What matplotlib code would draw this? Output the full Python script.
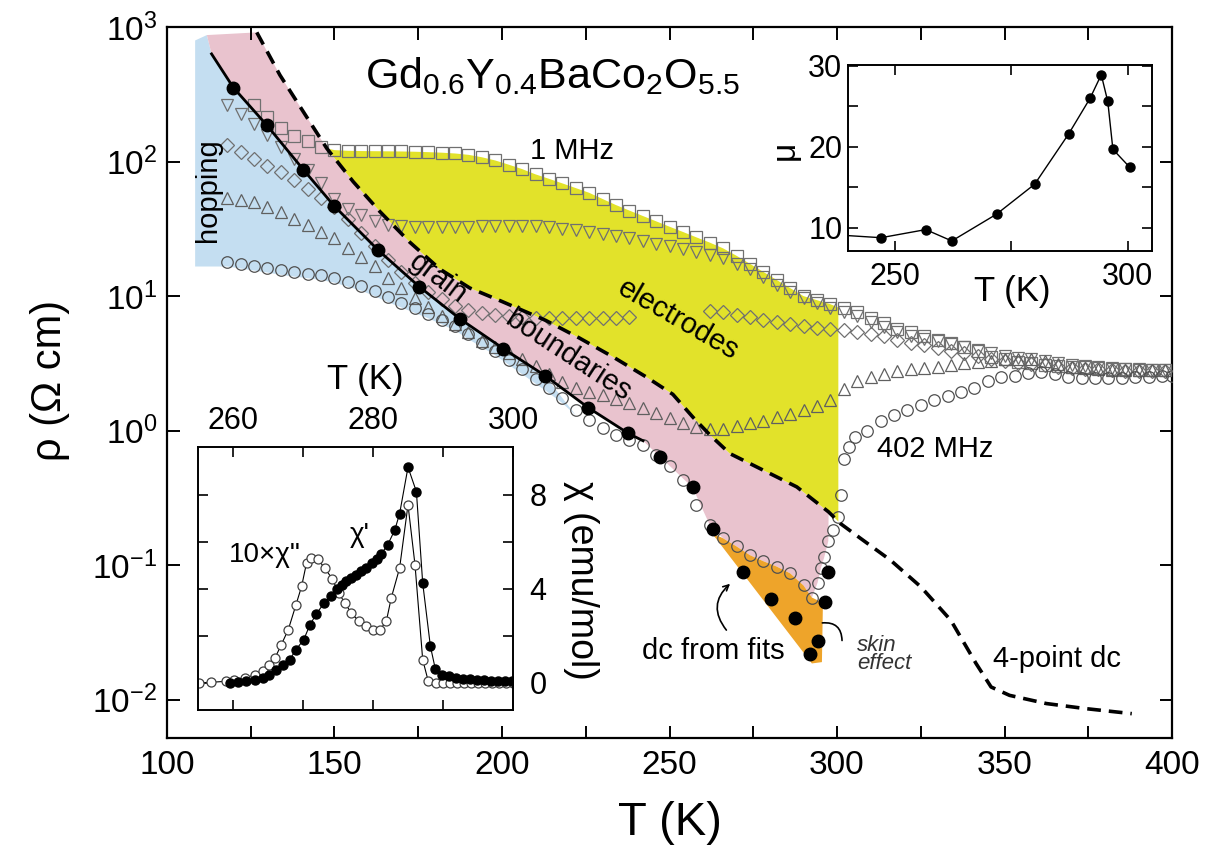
import numpy as np
import matplotlib
matplotlib.use('Agg')
import matplotlib.pyplot as plt
from matplotlib.ticker import MultipleLocator, NullLocator, FixedLocator

plt.rcParams['font.family'] = ['Liberation Sans', 'DejaVu Sans']
plt.rcParams['mathtext.fontset'] = 'custom'
plt.rcParams['mathtext.rm'] = 'Liberation Sans'
plt.rcParams['mathtext.it'] = 'Liberation Sans:italic'
plt.rcParams['mathtext.bf'] = 'Liberation Sans:bold'

# ---------------- data (log10 of rho in Ohm cm) ----------------
T_ac = [118, 122, 126, 130, 134, 138, 142, 146, 150, 154, 158, 162, 166, 170, 174, 178,
        182, 186, 190, 194, 198, 202, 206, 210, 214, 218, 222, 226, 230, 234, 238, 242,
        246, 250, 254, 258, 262, 266, 270, 274, 278, 282, 286, 290, 294, 298, 302, 306,
        310, 314, 318, 322, 326, 330, 334, 338, 342, 346, 350, 354, 358, 362, 366, 370,
        374, 378, 382, 386, 390, 394, 398]
nan = np.nan
# 1 MHz (squares)
lg_square = [nan, nan, 2.42, 2.33, 2.25, 2.19, 2.15, 2.11, 2.085, 2.08, 2.078, 2.077, 2.076, 2.075, 2.073, 2.07,
             2.066, 2.06, 2.05, 2.032, 2.008, 1.977, 1.944, 1.905, 1.872, 1.838, 1.803, 1.768, 1.722, 1.677, 1.636, 1.596,
             1.556, 1.516, 1.477, 1.437, 1.398, 1.355, 1.30, 1.24, 1.18, 1.12, 1.06, 1.00, 0.97, 0.94, 0.91, 0.88,
             0.84, 0.80, 0.755, 0.73, 0.70, 0.675, 0.65, 0.62, 0.59, 0.55, 0.53, 0.51, 0.50, 0.49, 0.48, 0.475,
             0.47, 0.465, 0.46, 0.455, 0.45, 0.45, 0.45]
# down triangles
lg_tri_down = [2.42, 2.35, 2.28, 2.20, 2.11, 2.02, 1.94, 1.84, 1.72, 1.65, 1.60, 1.555, 1.53, 1.52, 1.515, 1.515,
               1.515, 1.515, 1.517, 1.52, 1.52, 1.52, 1.52, 1.518, 1.512, 1.50, 1.49, 1.475, 1.46, 1.445, 1.43, 1.41,
               1.39, 1.37, 1.35, 1.33, 1.305, 1.28, 1.24, 1.20, 1.14, 1.08, 1.03, 0.985, 0.95, 0.91, 0.88, 0.85,
               0.81, 0.77, 0.73, 0.705, 0.685, 0.665, 0.645, 0.625, 0.60, 0.575, 0.555, 0.54, 0.53, 0.52, 0.505, 0.49,
               0.48, 0.47, 0.465, 0.46, 0.455, 0.45, 0.45]
# diamonds
lg_diamond = [2.12, 2.07, 2.02, 1.97, 1.92, 1.86, 1.795, 1.73, 1.66, 1.57, 1.47, 1.375, 1.27, 1.18, 1.10, 1.03,
              0.975, 0.93, 0.895, 0.875, 0.86, 0.85, 0.845, 0.84, 0.835, 0.835, 0.835, 0.835, 0.838, 0.84, 0.842, nan,
              nan, nan, nan, nan, 0.89, 0.88, 0.86, 0.846, 0.825, 0.805, 0.79, 0.775, 0.76, 0.752, 0.745, 0.73,
              0.715, 0.70, 0.675, 0.655, 0.635, 0.615, 0.595, 0.575, 0.555, 0.53, 0.515, 0.505, 0.495, 0.485, 0.475, 0.465,
              0.46, 0.455, 0.45, 0.445, 0.44, 0.44, 0.44]
# up triangles
lg_tri_up = [1.73, 1.715, 1.70, 1.665, 1.625, 1.575, 1.525, 1.48, 1.43, 1.355, 1.29, 1.225, 1.135, 1.06, 0.985, 0.92,
             0.855, 0.79, 0.73, 0.67, 0.62, 0.575, 0.53, 0.48, 0.42, 0.36, 0.315, 0.29, 0.265, 0.235, 0.205, 0.17,
             0.13, 0.095, 0.055, 0.03, 0.01, 0.015, 0.035, 0.055, 0.075, 0.10, 0.125, 0.15, 0.185, 0.225, 0.31, 0.37,
             0.40, 0.42, 0.44, 0.455, 0.465, 0.475, 0.49, 0.50, 0.51, 0.52, 0.53, 0.535, 0.535, 0.52, 0.495, 0.475,
             0.465, 0.455, 0.45, 0.45, 0.45, 0.45, 0.45]
# 402 MHz (circles)
T_circ = [118, 122, 126, 130, 134, 138, 142, 146, 150, 154, 158, 162, 166, 170, 174, 178, 182, 186, 190,
          194, 198, 202, 206, 210, 214, 218, 222, 226, 230, 234, 238, 242, 246, 250, 254, 258, 262, 266,
          270, 274, 278, 282, 286, 290, 292.5, 294.2, 295.2, 296.2, 297.4, 298.7, 300.2, 301.2, 302.0,
          303.5, 305.5, 309, 313, 317, 321, 325, 329, 333, 337, 341, 345, 349, 353, 357, 361, 365, 369,
          373, 377, 381, 385, 389, 393, 397, 400]
lg_circ = [1.255, 1.24, 1.225, 1.21, 1.193, 1.18, 1.168, 1.155, 1.135, 1.105, 1.075, 1.035, 0.99, 0.95, 0.91,
           0.87, 0.825, 0.78, 0.715, 0.655, 0.595, 0.525, 0.455, 0.385, 0.315, 0.24, 0.15, 0.08, 0.02, -0.03,
           -0.07, -0.105, -0.18, -0.26, -0.37, -0.55, -0.70, -0.80, -0.86, -0.925, -0.97, -1.01, -1.06, -1.15,
           -1.24, -1.13, -1.02, -0.94, -0.82, -0.74, -0.64, -0.48, -0.21, -0.12, -0.05, 0.00, 0.07, 0.12, 0.155,
           0.19, 0.225, 0.26, 0.29, 0.32, 0.37, 0.40, 0.41, 0.425, 0.435, 0.42, 0.40, 0.39, 0.39, 0.39, 0.395,
           0.40, 0.40, 0.405, 0.41]
# dc from fits (filled dots)
T_dc = [119.8, 129.8, 140.7, 149.9, 163.1, 175.3, 187.5, 200.4, 212.8, 225.8, 237.7, 247.2, 256.9,
        262.9, 271.8, 280.2, 287.5, 292.0, 294.4, 296.4, 297.4]
lg_dc = [2.55, 2.27, 1.94, 1.67, 1.34, 1.07, 0.83, 0.61, 0.41, 0.17, -0.02, -0.195, -0.42,
         -0.73, -1.05, -1.25, -1.39, -1.66, -1.56, -1.27, -1.05]
# hopping fit (solid line)
T_fit = [113.3, 119.8, 129.8, 140.7, 149.9, 163.1, 175.3, 187.5, 200.4, 212.8, 225.8, 237.7, 242.1]
lg_fit = [2.80, 2.55, 2.27, 1.94, 1.67, 1.34, 1.07, 0.83, 0.61, 0.41, 0.17, -0.02, -0.075]
# grain boundary limit + 4-point dc (dashed)
T_dash = [126.8, 133.7, 140.7, 147.7, 155.6, 163.6, 172.5, 181.5, 190.4, 200, 213, 223, 233, 243, 251,
          257, 262, 268, 278, 288, 297.5, 301, 307, 316, 325, 334, 341.5, 346, 351.5, 362.5, 374, 388]
lg_dash = [2.96, 2.643, 2.37, 2.098, 1.85, 1.627, 1.40, 1.20, 1.06, 0.96, 0.82, 0.69, 0.55, 0.40, 0.27,
           0.10, -0.03, -0.17, -0.294, -0.418, -0.604, -0.69, -0.80, -0.963, -1.16, -1.41, -1.73, -1.905,
           -1.967, -2.028, -2.065, -2.103]
# skin effect region outline
T_skin = [262.6, 266, 270, 274, 278, 282, 286, 290, 292.5, 295.8, 295.5, 292.5]
lg_skin = [-0.76, -0.80, -0.86, -0.925, -0.97, -1.01, -1.06, -1.15, -1.24, -1.28, -1.72, -1.73]

# insets
T_mu = [236, 247.0, 256.6, 262.2, 271.8, 280.0, 287.3, 291.9, 294.3, 295.7, 296.8, 300.4]
mu = [9.2, 8.8, 9.8, 8.4, 11.7, 15.4, 21.6, 26.0, 28.9, 25.6, 19.7, 17.5]

T_chi1 = [259.5, 260.7, 261.9, 263.1, 264.3, 265.2, 266.2, 267.1, 268.1, 269.0, 270.1, 271.0, 271.9,
          273.0, 274.0, 274.8, 275.5, 276.2, 276.9, 277.6, 278.3, 279.0, 279.8, 280.5, 281.2, 282.1,
          283.1, 283.8, 285.0, 286.2, 287.1, 288.2, 288.9, 289.8, 290.8, 291.8, 292.8, 293.8, 294.8,
          295.8, 296.8, 297.8, 298.8, 299.8]
chi1 = [0.0, 0.03, 0.07, 0.14, 0.21, 0.35, 0.57, 0.78, 0.99, 1.42, 1.84, 2.48, 2.93, 3.4, 3.71, 4.0,
        4.18, 4.32, 4.46, 4.6, 4.77, 4.91, 5.1, 5.27, 5.5, 5.88, 6.5, 7.2, 9.18, 8.14, 4.25, 1.56, 0.6,
        0.35, 0.28, 0.22, 0.18, 0.15, 0.13, 0.11, 0.1, 0.09, 0.08, 0.08]
T_chi2 = [255.2, 256.9, 259.0, 260.2, 261.7, 263.1, 264.3, 265.2, 266.0, 266.9, 267.9, 269.0, 269.8,
          270.5, 271.2, 272.1, 273.1, 274.2, 275.1, 276.0, 276.9, 278.0, 279.0, 280.0, 281.0, 281.9,
          282.6, 283.8, 285.0, 286.0, 287.1, 287.9, 289.0, 290.0, 291.0, 292.0, 293.0, 294.0, 295.0,
          296.0, 297.0, 298.0, 299.0, 300.0]
chi2 = [0.0, 0.03, 0.07, 0.14, 0.21, 0.35, 0.5, 0.78, 1.06, 1.63, 2.27, 3.33, 4.11, 5.1, 5.31, 5.27,
        4.89, 4.42, 3.82, 3.4, 2.97, 2.62, 2.41, 2.27, 2.27, 2.62, 3.61, 4.89, 7.58, 5.03, 0.99, 0.07,
        0.0, 0.0, 0.0, 0.0, 0.0, 0.0, 0.0, 0.0, 0.0, 0.0, 0.0, 0.0]

# ---------------- figure ----------------
W, H = 1221, 859
fig = plt.figure(figsize=(W / 100, H / 100), dpi=100)


def box(x0, y0, x1, y1):
    return [x0 / W, 1 - y1 / H, (x1 - x0) / W, (y1 - y0) / H]


def r(v):
    return 10 ** np.asarray(v, dtype=float)


ax = fig.add_axes(box(167, 27, 1172, 738))
ax.set_yscale('log')
ax.set_xlim(100, 400)
ax.set_ylim(5.2e-3, 1e3)

c_blue, c_pink, c_yel, c_org = '#c4def1', '#e9c3ce', '#e2e22a', '#eea42a'
T_ac_a = np.array(T_ac, float)
T_c = np.array(T_circ, float)
lc = np.array(lg_circ)

# hopping region
m = T_c <= 222
bx = [108.4, 111.9] + T_fit[:10] + list(T_c[m][::-1]) + [108.4]
by = [2.90, 2.94] + lg_fit[:10] + list(lc[m][::-1] - 0.035) + [1.22]
ax.fill(bx, r(by), color=c_blue, lw=0, zorder=1)

# grain boundary region
md = np.array(T_dash) <= 297.5
mc = (T_c >= 262) & (T_c <= 297.4)
px_ = [111.9] + list(np.array(T_dash)[md]) + list(T_c[mc][::-1]) + [256.9, 247.2] + T_fit[::-1]
py_ = [2.94] + list(np.array(lg_dash)[md]) + list(lc[mc][::-1]) + [-0.422, -0.195] + lg_fit[::-1]
ax.fill(px_, r(py_), color=c_pink, lw=0, zorder=1)

# electrodes region
ms_ = (T_ac_a >= 150) & (T_ac_a <= 298)
sq = np.array(lg_square)
d_end = np.interp(300.4, T_dash, lg_dash)
md2 = (np.array(T_dash) >= 147.7) & (np.array(T_dash) <= 297.5)
yx = list(T_ac_a[ms_]) + [300.4, 300.4] + list(np.array(T_dash)[md2][::-1])
yy = list(sq[ms_]) + [0.915, d_end] + list(np.array(lg_dash)[md2][::-1])
ax.fill(yx, r(yy), color=c_yel, lw=0, zorder=1)

# skin effect region
ax.fill(T_skin, r(lg_skin), color=c_org, lw=0, zorder=1)

mk = dict(ls='none', mfc='none', mew=0.9, zorder=3)
ax.plot(T_ac, r(lg_square), marker='s', ms=8, mec='#707070', **mk)
ax.plot(T_ac, r(lg_tri_down), marker='v', ms=9, mec='#707070', **mk)
ax.plot(T_ac, r(lg_diamond), marker='D', ms=7.3, mec='#707070', **mk)
ax.plot(T_ac, r(lg_tri_up), marker='^', ms=9, mec='#606060', **mk)
ax.plot(T_circ, r(lg_circ), marker='o', ms=8.3, mec='#505050', **mk)

ax.plot(T_fit, r(lg_fit), color='k', lw=2, zorder=4)
ax.plot(T_dash, r(lg_dash), color='k', lw=2.6, dashes=(3.8, 2.2), zorder=4)
ax.plot(T_dc, r(lg_dc), ls='none', marker='o', ms=9, color='k', zorder=5)

ax.xaxis.set_major_locator(MultipleLocator(50))
ax.xaxis.set_minor_locator(MultipleLocator(25))
ax.yaxis.set_minor_locator(NullLocator())
ax.tick_params(which='both', direction='in', top=True, right=True, length=9, width=1.4)
ax.tick_params(labelsize=24)
ax.tick_params(axis='x', pad=9)
ax.tick_params(axis='y', pad=7)
for s in ax.spines.values():
    s.set_linewidth(1.6)

fig.text(670 / W, 1 - 823 / H, 'T (K)', fontsize=34, ha='center', va='center')
fig.text(50 / W, 1 - 380 / H, 'ρ (Ω cm)', fontsize=30, ha='center', va='center', rotation=90)

# annotations
ax.text(159.1, 10 ** 2.546, r'Gd$_{0.6}$Y$_{0.4}$BaCo$_{2}$O$_{5.5}$', fontsize=31, va='baseline', zorder=6)
ax.text(220.8, 10 ** 2.078, '1 MHz', fontsize=21, ha='center', va='center', zorder=6)
ax.text(112.3, 10 ** 1.788, 'hopping', fontsize=21, ha='center', va='center', rotation=90, zorder=6)
ax.text(180.9, 10 ** 1.134, 'grain', fontsize=21, ha='center', va='center', rotation=-37, zorder=6)
ax.text(219.7, 10 ** 0.561, 'boundaries', fontsize=21, ha='center', va='center', rotation=-33, zorder=6)
ax.text(252.6, 10 ** 0.822, 'electrodes', fontsize=21, ha='center', va='center', rotation=-30, zorder=6)
ax.text(329.3, 10 ** -0.138, '402 MHz', fontsize=21, ha='center', va='center', zorder=6)
ax.text(263.2, 10 ** -1.639, 'dc from fits', fontsize=21, ha='center', va='center', zorder=6)
ax.text(365.7, 10 ** -1.699, '4-point dc', fontsize=21, ha='center', va='center', zorder=6)
ax.text(306.0, 10 ** -1.662, 'skin\neffect', fontsize=16, style='italic', color='#333333',
        ha='left', va='center', linespacing=0.85, zorder=6)
ax.annotate('', xy=(268.7, 10 ** -1.124), xytext=(267.5, 10 ** -1.498),
            arrowprops=dict(arrowstyle='->', lw=1.2, color='k', connectionstyle='arc3,rad=-0.5'), zorder=6)
ax.annotate('', xy=(294.8, 10 ** -1.431), xytext=(301.5, 10 ** -1.58),
            arrowprops=dict(arrowstyle='-', lw=1.2, color='k', connectionstyle='arc3,rad=0.6'), zorder=6)

# ---------------- inset: mu ----------------
ax2 = fig.add_axes(box(848, 65, 1152, 251))
ax2.plot(T_mu, mu, color='k', lw=1, marker='o', ms=6.5)
ax2.set_xlim(239.9, 305.2)
ax2.set_ylim(7.16, 30.1)
ax2.xaxis.set_major_locator(FixedLocator([250, 300]))
ax2.xaxis.set_minor_locator(FixedLocator([275]))
ax2.yaxis.set_major_locator(FixedLocator([10, 20, 30]))
ax2.yaxis.set_minor_locator(FixedLocator([15, 25]))
ax2.tick_params(which='both', direction='in', top=True, right=True, length=7, width=1.2, labelsize=22)
ax2.tick_params(axis='x', pad=8)
ax2.tick_params(axis='y', pad=4)
for s in ax2.spines.values():
    s.set_linewidth(1.4)
fig.text(1012 / W, 1 - 292 / H, 'T (K)', fontsize=25, ha='center', va='center')
fig.text(785 / W, 1 - 150 / H, 'μ', fontsize=24, ha='center', va='center', rotation=90)

# ---------------- inset: chi ----------------
ax3 = fig.add_axes(box(198, 447, 513, 710))
ax3.plot(T_chi2, chi2, color='k', lw=0.8, marker='o', ms=6.5, mfc='white', mec='#404040', mew=0.9)
ax3.plot(T_chi1, chi1, color='k', lw=0.8, marker='o', ms=6.5, mfc='k', mec='k')
ax3.set_xlim(255, 300)
ax3.set_ylim(-1.15, 10.04)
ax3.xaxis.set_major_locator(FixedLocator([260, 280, 300]))
ax3.xaxis.set_minor_locator(FixedLocator([270, 290]))
ax3.yaxis.set_major_locator(FixedLocator([0, 4, 8]))
ax3.yaxis.set_minor_locator(FixedLocator([2, 6]))
ax3.tick_params(which='both', direction='in', top=True, right=True, bottom=True, left=True,
                labeltop=True, labelbottom=False, labelright=True, labelleft=False,
                length=7, width=1.2, labelsize=22)
ax3.tick_params(axis='x', pad=8)
ax3.tick_params(axis='y', pad=12)
for s in ax3.spines.values():
    s.set_linewidth(1.4)
fig.text(365 / W, 1 - 380 / H, 'T (K)', fontsize=25, ha='center', va='center')
fig.text(581 / W, 1 - 580 / H, 'χ (emu/mol)', fontsize=27, ha='center', va='center', rotation=-90)
ax3.text(264.6, 5.45, '10×χ"', fontsize=20, ha='center', va='center')
ax3.text(278.1, 6.3, "χ'", fontsize=20, ha='center', va='center')

fig.savefig('out.png', dpi=100)
